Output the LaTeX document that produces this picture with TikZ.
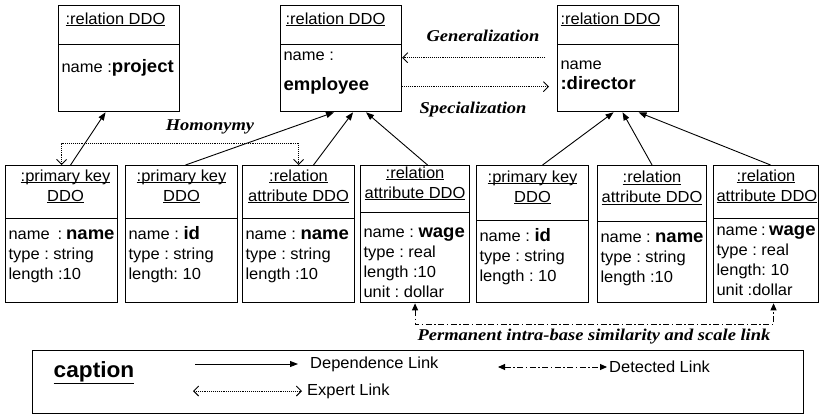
\documentclass[tikz,border=0pt]{standalone}
\usepackage{fontspec}
\setmainfont{Liberation Sans}[FakeStretch=1.03]
\newfontfamily\linkfont{Liberation Serif}[FakeStretch=1.12]
\usetikzlibrary{shapes.multipart, arrows.meta}
\tikzstyle{dep} = [line width=0.9pt,-{Triangle[length=8pt,width=6pt]}]
\tikzstyle{expert} = [line width=0.9pt,densely dotted,>={Straight Barb[length=5pt,width=10pt]}]
\tikzstyle{detect} = [line width=0.9pt,dash pattern=on 6pt off 2.5pt on 1.5pt off 2.5pt,<->,>={Triangle[length=7pt,width=6pt]}]
% parts of a DDO box: width, height, (top skip), text
\newcommand{\ddohead}[3]{\parbox[c][#2pt][c]{#1pt}{#3}}
\newcommand{\ddobody}[4]{\parbox[c][#2pt][t]{#1pt}{\raggedright\vspace*{#3pt}\strut #4}}
\newcommand{\uln}[1]{\underline{\smash{#1}}}
\newcommand{\val}[1]{{\fontsize{18}{21}\selectfont\bfseries #1}}

\begin{document}
\begin{tikzpicture}
        [
            x=1pt, y=-1pt,
            ddo/.style={rectangle split, rectangle split parts=2, draw=black, line width=1.1pt,
                inner xsep=3pt, inner ysep=0pt, anchor=north west, font=\fontsize{16}{20}\selectfont},
            linklbl/.style={font=\linkfont\fontsize{16.5}{18}\selectfont\bfseries\itshape},
            legtext/.style={anchor=west, inner xsep=0pt, font=\fontsize{16}{18}\selectfont},
        ]
    \useasboundingbox (0,0) rectangle (821,415);

    % relations
    \node[ddo] (proj) at (58,5) {\ddohead{115}{38}{\hspace*{4pt}\uln{:relation DDO}}
        \nodepart{two}\ddobody{115}{66}{13}{name~:\val{project}}};
    \node[ddo] (emp) at (280,5) {\ddohead{115}{38}{\hspace*{2pt}\uln{:relation DDO}}
        \nodepart{two}\ddobody{115}{66}{1}{name~:\\[10pt]\val{employee}}};
    \node[ddo] (dir) at (557,5) {\ddohead{115}{38}{\uln{:relation DDO}}
        \nodepart{two}\ddobody{115}{66}{10}{name\\\val{:director}}};

    % attributes
    \node[ddo] (pkname) at (5,165) {\ddohead{106}{52}{\centering\hspace*{8pt}\uln{:primary key}\\\hspace*{8pt}\uln{DDO}}
        \nodepart{two}\ddobody{106}{83}{6}{name~~:~\val{name}\\type~:~string\\length~:10}};
    \node[ddo] (pkid) at (125,165) {\ddohead{106}{52}{\centering\uln{:primary key}\\\uln{DDO}}
        \nodepart{two}\ddobody{106}{83}{6}{name~:~\val{id}\\type~:~string\\length:~10}};
    \node[ddo] (raname) at (242,165) {\ddohead{106}{52}{\centering\uln{:relation}\\\uln{attribute DDO}}
        \nodepart{two}\ddobody{106}{83}{6}{name~:~\val{name}\\type~:~string\\length~:10}};
    \node[ddo] (rawage) at (360,165) {\ddohead{103}{46}{\centering\uln{:relation}\\\uln{attribute DDO}}
        \nodepart{two}\ddobody{103}{89}{10}{name~:~\val{wage}\\type~:~real\\length~:10\\unit~:~dollar}};
    \node[ddo] (pkid2) at (476,165) {\ddohead{106}{54}{\centering\uln{:primary key}\\\uln{DDO}}
        \nodepart{two}\ddobody{106}{81}{6}{name~:~\val{id}\\type~:~string\\length~:~10}};
    \node[ddo] (raname2) at (597,165) {\ddohead{103}{55}{\centering\uln{:relation}\\\uln{attribute DDO}}
        \nodepart{two}\ddobody{103}{80}{6}{name~:~\val{name}\\type~:~string\\length~:10}};
    \node[ddo] (rawage2) at (713,165) {\ddohead{99}{52}{\centering\uln{:relation}\\\uln{attribute DDO}}
        \nodepart{two}\ddobody{99}{83}{2}{name~:~\val{wage}\\type~:~real\\length:~10\\unit~:dollar}};

    % dependence links
    \draw[dep] ([xshift=9pt]pkname.north) -- ([xshift=-13.5pt]proj.south);
    \draw[dep] ([xshift=4pt]pkid.north) -- ([xshift=-7pt]emp.south);
    \draw[dep] ([xshift=15pt]raname.north) -- ([xshift=12pt]emp.south);
    \draw[dep] ([xshift=12.5pt]rawage.north) -- ([xshift=25pt]emp.south);
    \draw[dep] ([xshift=10pt]pkid2.north) -- ([xshift=-4.5pt]dir.south);
    \draw[dep] (raname2.north) -- ([xshift=4.5pt]dir.south);
    \draw[dep] ([xshift=4.5pt]rawage2.north) -- ([xshift=20.5pt]dir.south);

    % expert links
    \draw[expert,->,shorten <=12pt] ([yshift=1pt]dir.west) -- ([yshift=1pt]emp.east);
    \draw[expert,->,shorten >=8pt] ([yshift=-28pt]emp.east) -- ([yshift=-28pt]dir.west);
    \draw[expert,<->] (pkname.north) -- ++(0,-22) -| (raname.north);
    \node[linklbl] (genlbl) at (483,36) {Generalization};
    \node[linklbl] (speclbl) at (473,110) {Specialization};
    \node[linklbl] (homlbl) at (210,127) {Homonymy};

    % detected link
    \draw[detect] (rawage.south) -- ++(0,21) -| ([xshift=7.5pt]rawage2.south);
    \node[linklbl] (permlbl) at (594,337) {Permanent intra-base similarity and scale link};

    % caption
    \node[draw=black, line width=1.1pt, anchor=north west, minimum width=771pt, minimum height=63pt] (legend) at (32,350) {};
    \node[font=\fontsize{22}{24}\selectfont\bfseries] (captlbl) at (94,373) {\underline{caption}};
    \node[legtext] (deplbl) at (310,364) {Dependence Link};
    \coordinate (depfrom) at (195,364);
    \draw[dep,shorten >=12pt] (depfrom) -- (deplbl.west);
    \node[legtext] (explbl) at (307,391) {Expert Link};
    \coordinate (expfrom) at (193,391);
    \draw[expert,<->,shorten >=5pt] (expfrom) -- (explbl.west);
    \node[legtext] (detlbl) at (609,367) {Detected Link};
    \coordinate (detfrom) at (498,367);
    \draw[detect,shorten >=2pt] (detfrom) -- (detlbl.west);
\end{tikzpicture}
\end{document}
